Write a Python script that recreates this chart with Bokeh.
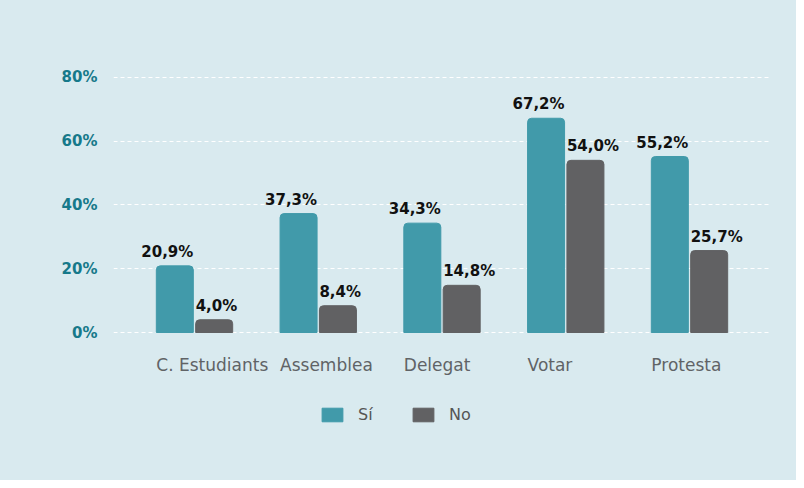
from bokeh.plotting import figure
from bokeh.models import (ColumnDataSource, Range1d, FixedTicker, PrintfTickFormatter,
                          Legend, LegendItem)
from bokeh.core.properties import value
from bokeh.embed import file_html
from bokeh.resources import INLINE

categories = ["C. Estudiants", "Assemblea", "Delegat", "Votar", "Protesta"]
si_values = [20.9, 37.3, 34.3, 67.2, 55.2]
no_values = [4.0, 8.4, 14.8, 54.0, 25.7]
series_names = ["Sí", "No"]
y_ticks = [0, 20, 40, 60, 80]

BG = "#d9eaef"
TEAL = "#419aaa"
GRAY = "#616163"
AXIS_TEAL = "#16798a"
FONT = "DejaVu Sans"

W, H = 796, 480
OFF = 0.159
BW = 0.299

idx = list(range(len(categories)))
fmt = lambda v: ("%.1f%%" % v).replace(".", ",")
src = ColumnDataSource(dict(
    x_si=[i - OFF for i in idx], x_no=[i + OFF for i in idx],
    si=si_values, no=no_values,
    lx_si=[i - OFF + BW / 2 for i in idx], lx_no=[i + OFF - BW / 2 for i in idx],
    cx=[i - OFF - BW / 2 for i in idx], zero=[0] * len(idx), cat=categories,
    t_si=[fmt(v) for v in si_values], t_no=[fmt(v) for v in no_values],
))

top_px, zero_px = 61, 332
scale = (zero_px - top_px) / 85.0
y_bottom = -(H - zero_px) / scale

p = figure(width=W, height=H, output_backend="svg", toolbar_location=None,
           x_range=Range1d(-0.6545, len(categories) - 1 + 0.6545),
           y_range=Range1d(y_bottom, 85),
           min_border_left=113, min_border_right=W - 770, min_border_top=top_px,
           min_border_bottom=0)
p.styles = {"background-color": BG}
p.background_fill_alpha = 0
p.border_fill_alpha = 0
p.outline_line_color = None

r_si = p.vbar(x="x_si", top="si", bottom=0, width=BW, source=src, color=TEAL,
              border_radius=(4, 4, 0, 0))
r_no = p.vbar(x="x_no", top="no", bottom=0, width=BW, source=src, color=GRAY,
              border_radius=(4, 4, 0, 0))

common = dict(source=src, text_baseline="alphabetic", text_font=value(FONT))
p.text(x="lx_si", y="si", text="t_si", text_align="right", y_offset=-14,
       text_font_size="15px", text_font_style="bold", text_color="#111111", **common)
p.text(x="lx_no", y="no", text="t_no", text_align="left", y_offset=-14,
       text_font_size="15px", text_font_style="bold", text_color="#111111", **common)
p.text(x="cx", y="zero", text="cat", text_align="left", y_offset=32,
       text_font_size="17px", text_color="#606366", **common)

p.xaxis.visible = False
p.xgrid.visible = False
p.ygrid.ticker = FixedTicker(ticks=y_ticks)
p.ygrid.grid_line_color = "white"
p.ygrid.grid_line_dash = "4 3"
p.ygrid.grid_line_width = 1

p.yaxis.ticker = FixedTicker(ticks=y_ticks)
p.yaxis.formatter = PrintfTickFormatter(format="%d%%")
p.yaxis.axis_line_color = None
p.yaxis.major_tick_line_color = None
p.yaxis.minor_tick_line_color = None
p.yaxis.major_label_standoff = 10
p.yaxis.major_label_text_font = FONT
p.yaxis.major_label_text_font_size = "15px"
p.yaxis.major_label_text_font_style = "bold"
p.yaxis.major_label_text_color = AXIS_TEAL

legend = Legend(items=[LegendItem(label=series_names[0], renderers=[r_si]),
                       LegendItem(label=series_names[1], renderers=[r_no])],
                orientation="horizontal", location=(206, 56),
                glyph_width=26, glyph_height=17, label_standoff=13, spacing=32,
                padding=0, margin=0, border_line_alpha=0, background_fill_alpha=0,
                label_text_font=FONT, label_text_font_size="16px",
                label_text_color="#555555")
p.add_layout(legend, "center")

open("out.html", "w").write(file_html(p, INLINE))
